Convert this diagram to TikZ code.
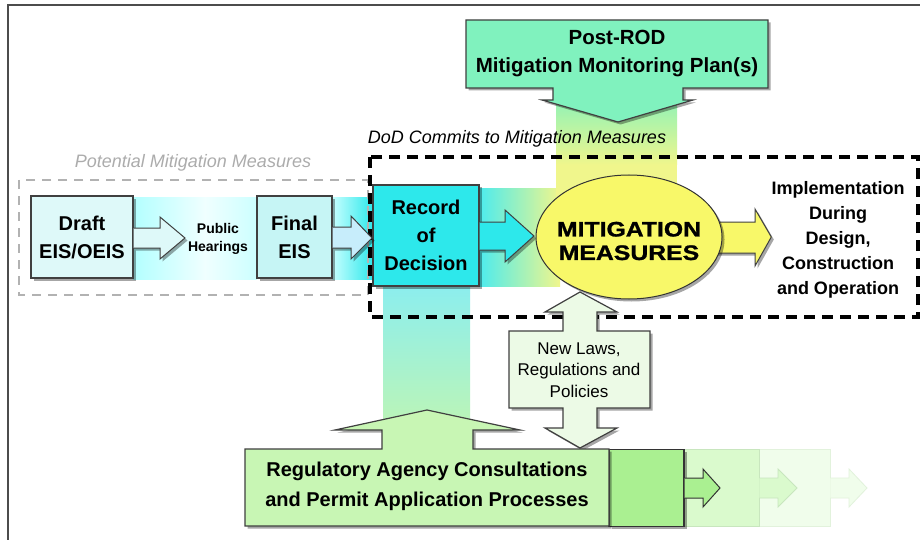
\documentclass[tikz,border=0pt]{standalone}
\usepackage{fontspec}
\setmainfont{Liberation Sans}
\newfontfamily\blackfont[FakeStretch=1.18,FakeBold=1.2]{Liberation Sans Bold}
\usetikzlibrary{shapes.geometric,shadows,calc}
\definecolor{cyanL}{RGB}{222,249,249}
\definecolor{cyanM}{RGB}{198,245,245}
\definecolor{rodc}{RGB}{45,232,235}
\definecolor{yell}{RGB}{248,248,105}
\definecolor{bandY}{RGB}{240,246,140}
\definecolor{postg}{RGB}{128,242,190}
\definecolor{regg}{RGB}{200,246,180}
\definecolor{gA}{RGB}{170,240,145}
\definecolor{gB}{RGB}{218,250,205}
\definecolor{gC}{RGB}{240,253,235}
\definecolor{gBline}{RGB}{200,230,190}
\definecolor{gCline}{RGB}{226,242,220}
\definecolor{lawg}{RGB}{236,250,230}
\definecolor{bandC}{RGB}{140,238,238}
\definecolor{bandG}{RGB}{190,245,180}
\begin{document}
\begin{tikzpicture}[x=1pt,y=-1pt,
  shad/.style={drop shadow={shadow xshift=2.5pt,shadow yshift=-2.5pt,fill=black,opacity=0.35}},
  boxst/.style={draw=black!75,line width=1.2pt,shad,align=center,inner sep=0pt,
     font=\fontsize{20}{28}\selectfont\bfseries},
  barrow/.style={draw=black!75,line width=1pt,shad},
  shapest/.style={draw=black!75,line width=1.2pt,shad},
  lbl/.style={align=center,inner sep=0pt}]
\useasboundingbox (0,0) rectangle (920,540);
\fill[white] (0,0) rectangle (920,540);
\draw[black!70,line width=1.2pt] (8,540) -- (8,5) -- (920,5);

% background bands
\fill[left color=cyan!30,right color=cyan!6] (133,197) rectangle (205,279);
\fill[left color=cyan!6,right color=cyan!20] (205,197) rectangle (257,279);
\fill[left color=cyan!22,right color=rodc] (332,197) rectangle (373,279);
\fill[left color=rodc!85,right color=bandY] (479,188) rectangle (560,286);
\fill[top color=postg,bottom color=bandY] (556,88) rectangle (677,165);
\fill[bandY] (556,165) rectangle (677,240);
\fill[top color=bandC,bottom color=bandG] (383,286) rectangle (470,432);

% dashed groups
\draw[gray!60,line width=2.6pt,dash pattern=on 9pt off 7pt] (19,180) rectangle (368,295);
\draw[black,line width=3.2pt,dash pattern=on 11pt off 7pt] (370,157) rectangle (918,317);
\node[lbl,font=\fontsize{18}{20}\selectfont\itshape,text=gray!65] (potl) at (193,163) {Potential Mitigation Measures};
\node[lbl,font=\fontsize{18}{20}\selectfont\itshape] (dodl) at (517,139) {DoD Commits to Mitigation Measures};

% left chain
\node[boxst,fill=cyanL,minimum width=102pt,minimum height=82pt] (draft) at (82,237) {Draft\\EIS/OEIS};
\node[lbl,font=\fontsize{14}{18}\selectfont\bfseries] (hear) at (218,239) {Public\\Hearings};
\node[boxst,fill=cyanM,minimum width=75pt,minimum height=82pt] (final) at (294.5,237) {Final\\EIS};
\node[boxst,fill=rodc,minimum width=106pt,minimum height=101pt] (rod) at (426,235.5) {Record\\of\\Decision};

\coordinate (tipA) at (185,238);
\filldraw[barrow,fill=cyanL] (draft.east |- 0,228) -- (160,228) -- (160,217) -- (tipA) -- (160,259) -- (160,248) -- (draft.east |- 0,248);
\coordinate (tipB) at (372,238);
\filldraw[barrow,fill=cyan!22] (final.east |- 0,227) -- (351,227) -- (351,216) -- (tipB) -- (351,259) -- (351,248) -- (final.east |- 0,248);
\coordinate (tipC) at (534,236);
\filldraw[barrow,fill=rodc] (rod.east |- 0,222) -- (505,222) -- (505,210) -- (tipC) -- (505,262) -- (505,250) -- (rod.east |- 0,250);

% implementation
\node[lbl,font=\fontsize{18}{25}\selectfont\bfseries] (impl) at (838,240) {Implementation\\During\\Design,\\Construction\\and Operation};
\coordinate (dstart) at (690,237);
\filldraw[barrow,fill=yell] (dstart |- 0,222) -- (755,222) -- (755,209) -- (impl.west |- 0,237) -- (755,266) -- (755,253) -- (dstart |- 0,253);

% mitigation measures
\node[ellipse,draw=black!80,line width=1pt,fill=yell,shad,minimum width=186pt,minimum height=124pt,inner sep=0pt] (mm) at (629,237) {};
\node[lbl,font=\blackfont\fontsize{21}{23.5}\selectfont] (mmtext) at (629,241) {MITIGATION\\MEASURES};

% Post-ROD
\path[shapest,fill=postg] (466,20) -- (768,20) -- (768,88) -- (683,88) -- (683,100) -- (693,100) -- (618,122) -- (542,100) -- (553,100) -- (553,88) -- (466,88) -- cycle;
\node[lbl,font=\fontsize{20.5}{28}\selectfont\bfseries] (post) at (617,54) {Post-ROD\\Mitigation Monitoring Plan(s)};

% New laws double arrow
\path[shapest,fill=lawg] (509,331) -- (563,331) -- (563,312) -- (545,312) -- (580,292) -- (617,312) -- (597,312) -- (597,331) -- (650,331) -- (650,408) -- (597,408) -- (597,428) -- (617,428) -- (580,448) -- (545,428) -- (563,428) -- (563,408) -- (509,408) -- cycle;
\node[lbl,font=\fontsize{17}{21.5}\selectfont] (laws) at (579,370) {New Laws,\\Regulations and\\Policies};

% green process boxes
\node[draw=gCline,fill=gC,line width=0.8pt,minimum width=71pt,minimum height=77pt,inner sep=0pt] (g3) at (794.5,488) {};
\node[draw=gBline,fill=gB,line width=0.8pt,minimum width=75pt,minimum height=77pt,inner sep=0pt] (g2) at (721.5,488) {};
\node[draw=black!80,fill=gA,line width=1.2pt,shad,minimum width=75pt,minimum height=77pt,inner sep=0pt] (g1) at (646.5,488) {};
\coordinate (tip3) at (867,488);
\filldraw[draw=gCline,fill=gC,line width=0.8pt] (g3.east |- 0,478) -- (849,478) -- (849,469) -- (tip3) -- (849,507) -- (849,498) -- (g3.east |- 0,498);
\coordinate (tip2) at (797,488);
\filldraw[draw=gBline,fill=gB,line width=0.8pt] (g2.east |- 0,478) -- (778,478) -- (778,469) -- (tip2) -- (778,507) -- (778,498) -- (g2.east |- 0,498);
\coordinate (tip1) at (720,488);
\filldraw[draw=black!80,fill=gA,line width=1pt] (g1.east |- 0,478) -- (703,478) -- (703,469) -- (tip1) -- (703,507) -- (703,498) -- (g1.east |- 0,498);

% Regulatory
\path[shapest,fill=regg] (245,449) -- (382,449) -- (382,430) -- (335,430) -- (427,410) -- (520,430) -- (473,430) -- (473,449) -- (609,449) -- (609,526) -- (245,526) -- cycle;
\node[lbl,font=\fontsize{20}{30}\selectfont\bfseries] (reg) at (427,486) {Regulatory Agency Consultations\\and Permit Application Processes};
\end{tikzpicture}
\end{document}
